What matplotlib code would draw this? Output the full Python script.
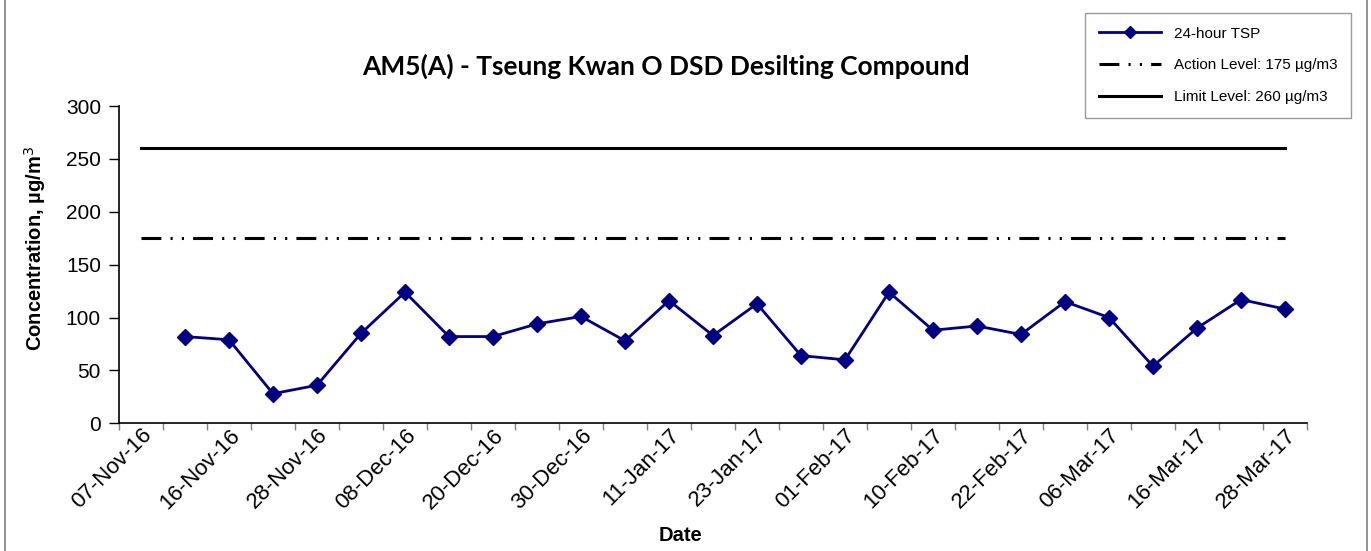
import numpy as np
import matplotlib
matplotlib.use('Agg')
import matplotlib.pyplot as plt
from matplotlib.lines import Line2D

# categories (first one has no measurement), labels shown on every second category
tick_labels = ['07-Nov-16', '16-Nov-16', '28-Nov-16', '08-Dec-16', '20-Dec-16', '30-Dec-16',
               '11-Jan-17', '23-Jan-17', '01-Feb-17', '10-Feb-17', '22-Feb-17', '06-Mar-17',
               '16-Mar-17', '28-Mar-17']
tsp = [np.nan, 82, 79, 28, 36, 85, 124, 82, 82, 94, 101, 78, 116, 83, 113, 64, 60, 124,
       88, 92, 84, 115, 100, 54, 90, 117, 108]
action_level = 175
limit_level = 260

n = len(tsp)
x = np.arange(n)

plt.rcParams['font.family'] = ['Liberation Sans', 'DejaVu Sans']

fig = plt.figure(figsize=(13.71, 5.51), dpi=100)
ax = fig.add_axes([119/1371, 1 - 423.3/551, (1307-119)/1371, (423.3-106)/551])

ax.plot(x, [limit_level]*n, color='black', lw=2.2, label='Limit Level: 260 µg/m3', zorder=2)
ax.plot(x, [action_level]*n, color='black', lw=2.2, dash_capstyle='butt',
        linestyle=(0, (6.5, 3, 0.7, 3, 0.7, 3)), label='Action Level: 175 µg/m3', zorder=2)
ax.plot(x, tsp, color='#000080', lw=2.0, marker='D', markersize=8, label='24-hour TSP', zorder=3)

ax.set_xlim(-0.5, n - 0.5)
ax.set_ylim(0, 300)
ax.set_yticks(range(0, 301, 50))
ax.tick_params(axis='y', labelsize=15, length=7, width=1, direction='out', pad=6)

ax.set_xticks(x[::2])
ax.set_xticklabels(tick_labels, rotation=45, ha='right', rotation_mode='anchor', fontsize=16)
ax.tick_params(axis='x', which='major', length=0, pad=1)
ax.set_xticks(np.arange(n + 1) - 0.5, minor=True)
ax.tick_params(axis='x', which='minor', length=5, width=1, color='#808080')

for s in ['top', 'right']:
    ax.spines[s].set_visible(False)
ax.spines['left'].set_linewidth(1.2)
ax.spines['bottom'].set_linewidth(1.2)

ax.set_ylabel('Concentration, µg/m$^3$', fontsize=14.5, fontweight='bold')
ax.yaxis.set_label_coords(-(119-48)/1188, (423.3-249)/317.3)
ax.set_xlabel('Date', fontsize=14.5, fontweight='bold')
ax.xaxis.set_label_coords((680-119)/1188, -(526-423.3)/317.3)

fig.text(666/1371, 1 - 66/551, 'AM5(A) - Tseung Kwan O DSD Desilting Compound',
         ha='center', va='center', fontsize=19, fontweight='bold', family=['Lato', 'DejaVu Sans'])

handles, labels = ax.get_legend_handles_labels()
order = [2, 1, 0]
leg = fig.legend([handles[i] for i in order], [labels[i] for i in order],
                 loc='upper left', bbox_to_anchor=(1085/1371, 1 - 13/551), borderaxespad=0,
                 fontsize=11, frameon=True, fancybox=False, edgecolor='#808080',
                 handlelength=4.1, labelspacing=1.15, borderpad=0.9, handletextpad=0.8)
leg.get_frame().set_linewidth(1.0)
for h in leg.legend_handles:
    if h.get_marker() == 'D':
        h.set_markersize(6)

# outer chart border lines
fig.add_artist(Line2D([5/1371, 5/1371], [0, 1], color='#808080', lw=1.2))
fig.add_artist(Line2D([1367/1371, 1367/1371], [0, 1], color='#808080', lw=1.2))

fig.savefig('out.png', dpi=100)
